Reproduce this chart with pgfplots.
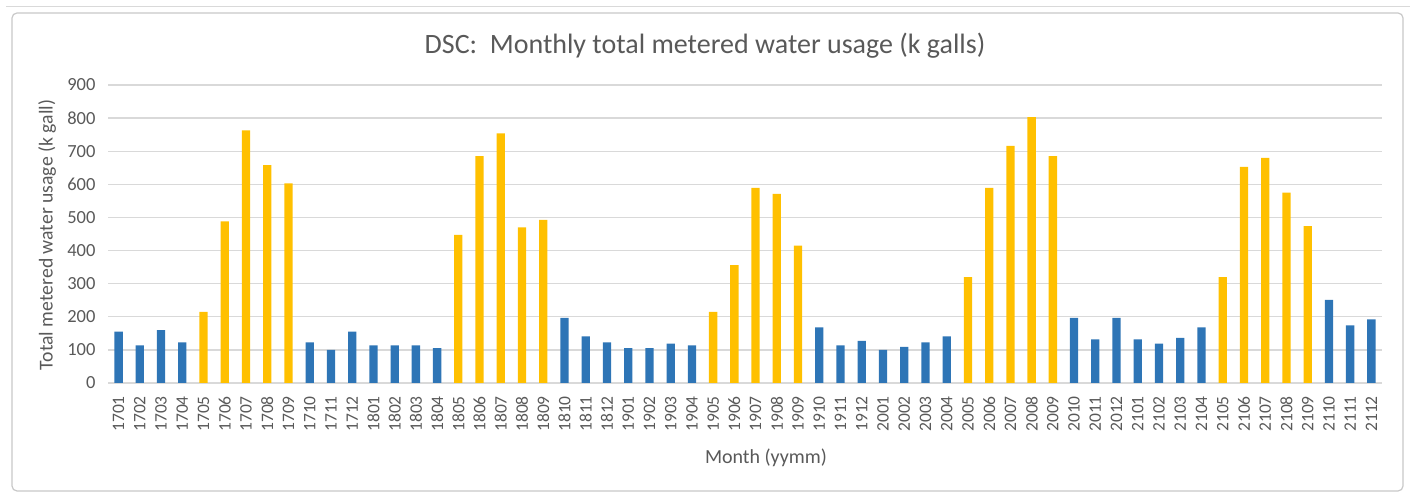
\documentclass[border=0pt]{standalone}
\usepackage{fontspec}
\setmainfont{Carlito}
\usepackage{pgfplots}
\pgfplotsset{compat=1.18}
\definecolor{bblue}{HTML}{2E75B6}
\definecolor{byel}{HTML}{FFC000}
\definecolor{txt}{HTML}{595959}
\definecolor{grd}{HTML}{D9D9D9}
\definecolor{frm}{HTML}{C8C8C8}
\begin{document}
\begin{tikzpicture}[x=1pt,y=1pt]
\path[use as bounding box] (0,0) rectangle (1415,494);
\draw[frm, line width=1.2pt, rounded corners=5pt] (12,3) rectangle (1403,481);
\draw[grd, line width=1pt] (6,487) -- (1410,487);
\node[text=txt, font=\fontsize{28}{32}\selectfont] at (705,448) {DSC:\ \ Monthly total metered water usage (k galls)};
\node[text=txt, font=\fontsize{19.7}{22}\selectfont, rotate=90] at (47,259) {Total metered water usage (k gall)};
\node[text=txt, font=\fontsize{20}{22}\selectfont] at (766,36) {Month (yymm)};
\begin{axis}[
  at={(108pt,111pt)}, anchor=south west,
  width=1274pt, height=298pt, scale only axis,
  xmin=-0.5, xmax=59.5, ymin=0, ymax=900,
  ybar, bar width=0.39, bar shift=0pt,
  axis line style={draw=none},
  tick style={draw=none},
  major tick length=0pt,
  ymajorgrids, grid style={grd, line width=1.3pt},
  ytick={0,100,...,900},
  xtick={0,...,59},
  xticklabels={1701,1702,1703,1704,1705,1706,1707,1708,1709,1710,1711,1712,
    1801,1802,1803,1804,1805,1806,1807,1808,1809,1810,1811,1812,
    1901,1902,1903,1904,1905,1906,1907,1908,1909,1910,1911,1912,
    2001,2002,2003,2004,2005,2006,2007,2008,2009,2010,2011,2012,
    2101,2102,2103,2104,2105,2106,2107,2108,2109,2110,2111,2112},
  /pgf/number format/assume math mode=true,
  yticklabel style={text=txt, font=\fontsize{18.5}{22}\selectfont, xshift=-9pt},
  xticklabel style={text=txt, font=\fontsize{17.5}{22}\selectfont, rotate=90, anchor=east, xshift=-13pt, inner xsep=0pt},
  clip=false,
]
\addplot[fill=bblue, draw=none] coordinates {
(0,155) (1,114) (2,160) (3,123) (9,123) (10,100) (11,155)
(12,114) (13,114) (14,114) (15,105) (21,197) (22,141) (23,123)
(24,105) (25,105) (26,119) (27,114) (33,168) (34,114) (35,127)
(36,100) (37,109) (38,123) (39,141) (45,197) (46,132) (47,197)
(48,132) (49,119) (50,136) (51,168) (57,251) (58,174) (59,192)
};
\addplot[fill=byel, draw=none] coordinates {
(4,215) (5,488) (6,763) (7,658) (8,603)
(16,447) (17,685) (18,754) (19,470) (20,493)
(28,215) (29,356) (30,589) (31,571) (32,415)
(40,320) (41,589) (42,716) (43,803) (44,685)
(52,320) (53,653) (54,680) (55,575) (56,474)
};
\end{axis}
\end{tikzpicture}
\end{document}
